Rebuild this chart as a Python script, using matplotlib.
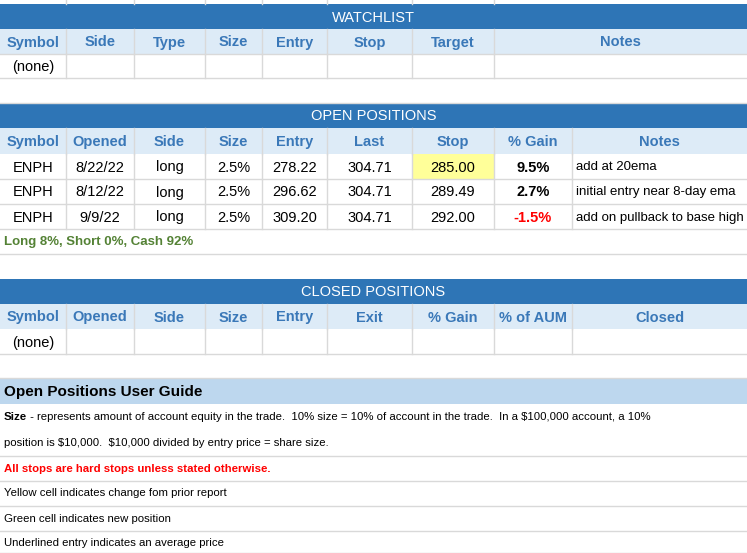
import matplotlib
matplotlib.use("Agg")
import matplotlib.pyplot as plt
from matplotlib.patches import Rectangle

plt.rcParams['font.family'] = ['Liberation Sans', 'DejaVu Sans']
plt.rcParams['text.parse_math'] = False

W, H = 747, 553
watch_cols = ["Symbol", "Side", "Type", "Size", "Entry", "Stop", "Target", "Notes"]
watch_rows = [["(none)", "", "", "", "", "", "", ""]]
open_cols = ["Symbol", "Opened", "Side", "Size", "Entry", "Last", "Stop", "% Gain", "Notes"]
open_rows = [
    ["ENPH", "8/22/22", "long", "2.5%", "278.22", "304.71", "285.00", "9.5%", "add at 20ema"],
    ["ENPH", "8/12/22", "long", "2.5%", "296.62", "304.71", "289.49", "2.7%", "initial entry near 8-day ema"],
    ["ENPH", "9/9/22", "long", "2.5%", "309.20", "304.71", "292.00", "-1.5%", "add on pullback to base high"],
]
exposure = "Long 8%, Short 0%, Cash 92%"
closed_cols = ["Symbol", "Opened", "Side", "Size", "Entry", "Exit", "% Gain", "% of AUM", "Closed"]
closed_rows = [["(none)", "", "", "", "", "", "", "", ""]]
guide_title = "Open Positions User Guide"
guide_lines = [
    ("Size", " - represents amount of account equity in the trade.  10% size = 10% of account in the trade.  In a $100,000 account, a 10%"),
    ("", "position is $10,000.  $10,000 divided by entry price = share size."),
    ("", "All stops are hard stops unless stated otherwise."),
    ("", "Yellow cell indicates change fom prior report"),
    ("", "Green cell indicates new position"),
    ("", "Underlined entry indicates an average price"),
]

xw = [0, 66, 134, 205, 262, 327, 412, 494, 747]
xo = [0, 66, 134, 205, 262, 327, 412, 494, 572, 747]

BLUE = "#2E75B6"; LIGHT = "#DDEBF7"; HTXT = "#3A78B8"; GRID = "#D9D9D9"

fig = plt.figure(figsize=(W/100, H/100), dpi=100)
ax = fig.add_axes([0, 0, 1, 1])
ax.set_xlim(0, W); ax.set_ylim(H, 0); ax.axis("off")

def rect(x0, y0, x1, y1, fc):
    ax.add_patch(Rectangle((x0, y0), x1-x0, y1-y0, facecolor=fc, edgecolor="none", lw=0))

def hline(y):
    ax.plot([0, W], [y, y], color=GRID, lw=1)

def vlines(xs, y0, y1):
    for x in xs[1:-1]:
        ax.plot([x, x], [y0, y1], color=GRID, lw=1)

def title(y0, y1, t):
    rect(0, y0, W, y1, BLUE)
    ax.text(W/2, (y0+y1)/2+1, t, color="white", fontsize=10.5, ha="center", va="center")

def header(y0, y1, xs, cols):
    rect(0, y0, W, y1, LIGHT)
    vlines(xs, y0, y1)
    for i, c in enumerate(cols):
        ax.text((xs[i]+xs[i+1])/2, (y0+y1)/2+1, c, color=HTXT, fontsize=10.5, fontweight="bold", ha="center", va="center")

def datarow(y0, y1, xs, vals, notes_left=False, special=None):
    vlines(xs, y0, y1)
    hline(y1)
    for i, v in enumerate(vals):
        kw = dict(color="black", fontsize=10.5, va="center", ha="center")
        x = (xs[i]+xs[i+1])/2
        if notes_left and i == len(vals)-1:
            kw.update(ha="left", fontsize=9.5); x = xs[i]+4
        if special and i in special:
            kw.update(special[i])
        ax.text(x, (y0+y1)/2+1, v, **kw)

vlines(xw, 0, 4)
title(4, 29, "WATCHLIST")
header(29, 54, xw, watch_cols)
hline(54)
datarow(54, 78, xw, watch_rows[0])
hline(103)
title(103, 128, "OPEN POSITIONS")
header(128, 154, xo, open_cols)
ys = [154, 179, 204, 229]
for r, row in enumerate(open_rows):
    if r == 0:
        rect(xo[6], ys[r], xo[7], ys[r+1], "#FFFF99")
    gain = row[7]
    sp = {7: dict(fontweight="bold", color="red" if gain.startswith("-") else "black")}
    datarow(ys[r], ys[r+1], xo, row, notes_left=True, special=sp)
ax.text(4, 242, exposure, color="#548235", fontsize=9.5, fontweight="bold", va="center")
hline(254)
title(279, 304, "CLOSED POSITIONS")
header(304, 329, xo, closed_cols)
datarow(329, 354, xo, closed_rows[0])
hline(378)
rect(0, 378, W, 404, "#BDD7EE")
ax.text(4, 392, guide_title, fontsize=11, fontweight="bold", va="center")
gy = [404, 430, 456, 481, 506, 531, 556]
for i, (b, t) in enumerate(guide_lines):
    yc = (gy[i]+gy[i+1])/2
    col = "red" if i == 2 else "black"
    fw = "bold" if i == 2 else "normal"
    if b:
        tb = ax.text(4, yc, b, fontsize=8.2, fontweight="bold", va="center")
        fig.canvas.draw()
        bb = tb.get_window_extent().transformed(ax.transData.inverted())
        ax.text(bb.x1, yc, t, fontsize=8.2, va="center")
    else:
        ax.text(4, yc, t, fontsize=8.2, color=col, fontweight=fw, va="center")
    if i >= 1:
        hline(gy[i+1] if i < 5 else 553)

fig.savefig("out.png", dpi=100)
